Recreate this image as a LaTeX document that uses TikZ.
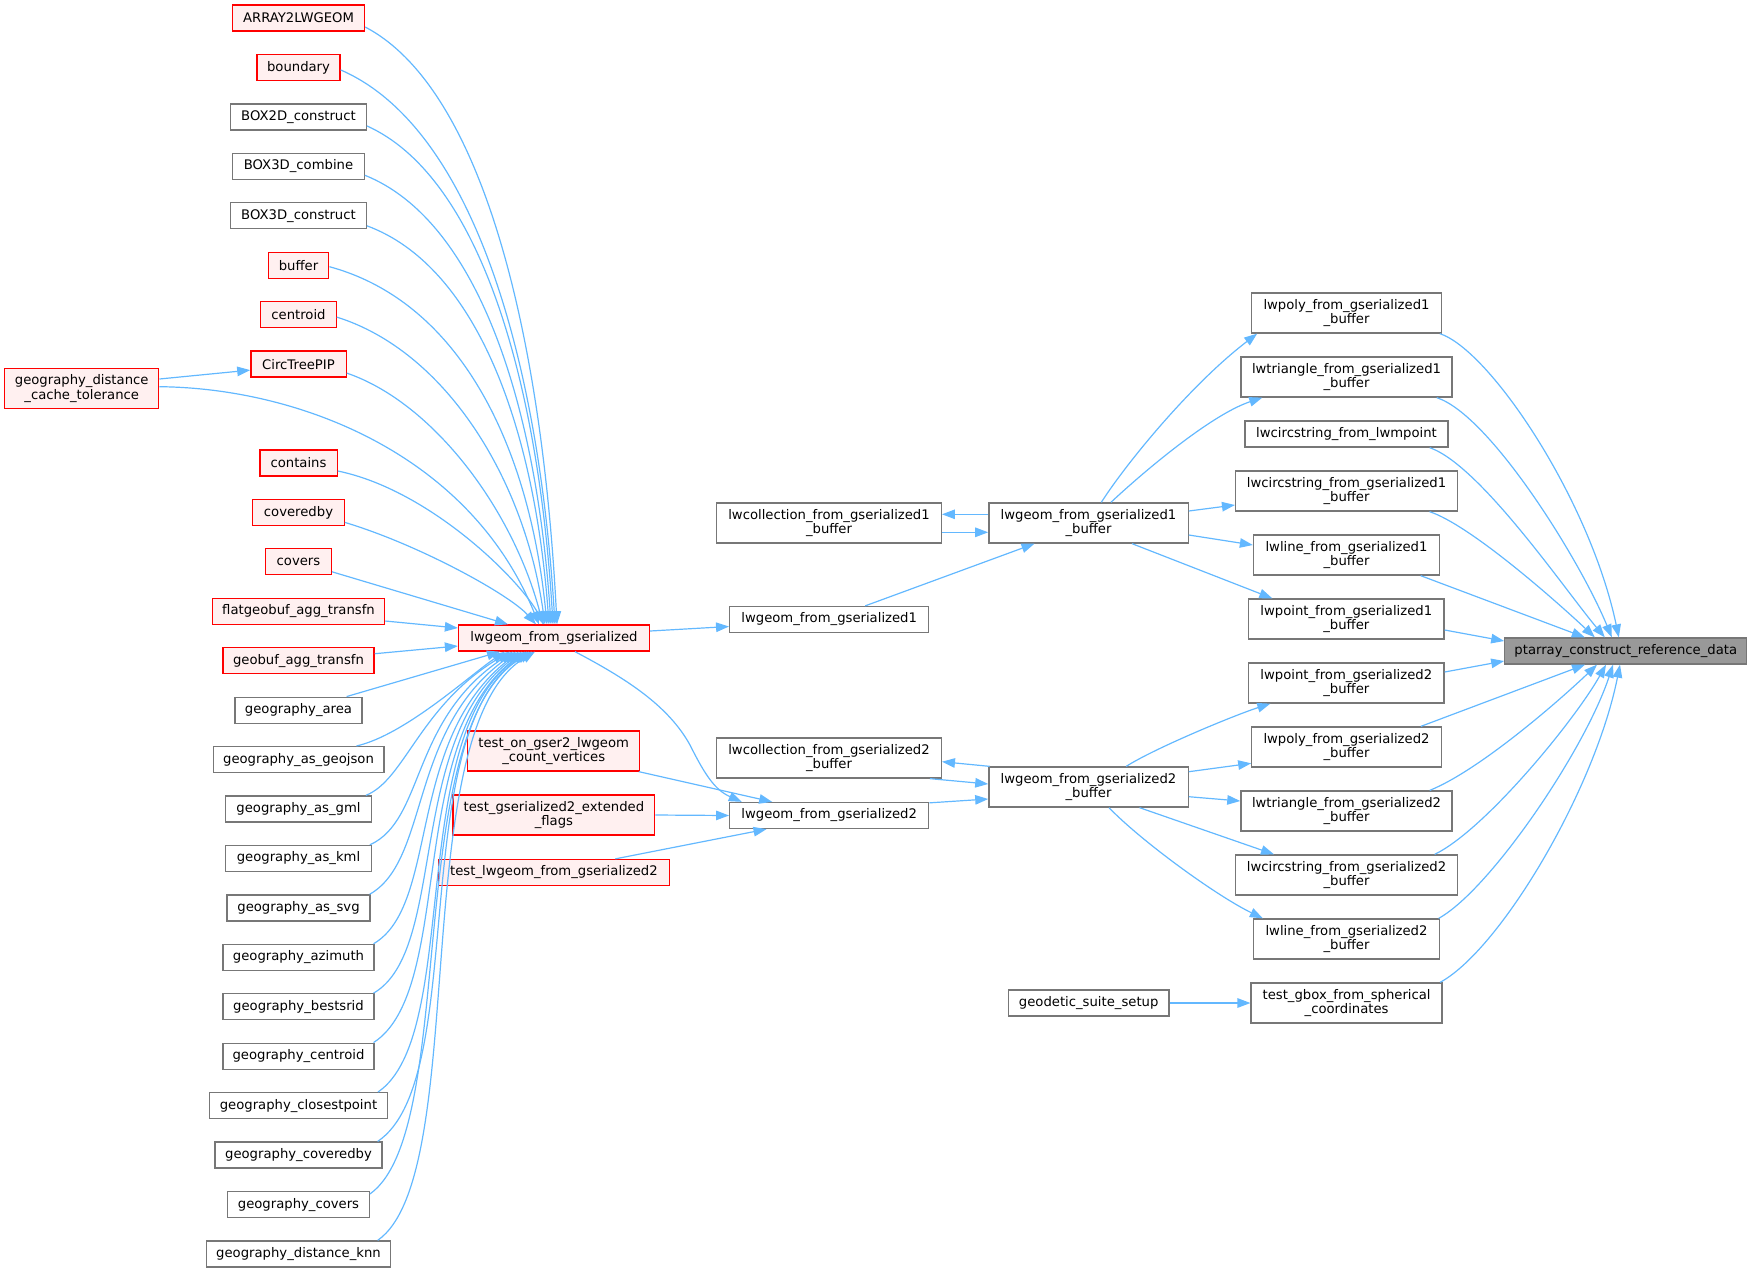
\documentclass[tikz,border=0pt]{standalone}
\usepackage{fontspec}
\setmainfont{DejaVu Sans}
\usetikzlibrary{arrows.meta}
\definecolor{edgeblue}{HTML}{63B8FF}
\definecolor{nodegray}{HTML}{777777}
\definecolor{rootfill}{HTML}{999999}
\definecolor{redfill}{HTML}{FFF0F0}
\definecolor{redline}{HTML}{FF0000}
\tikzset{
  nd/.style={draw=nodegray, fill=white, line width=1.3pt, inner sep=0pt, minimum height=26pt, align=center, font=\fontsize{13.2pt}{14.5pt}\selectfont},
  rd/.style={nd, draw=redline, fill=redfill},
  rt/.style={nd, fill=rootfill},
  tw/.style={minimum height=40pt},
  arr/.style={draw=edgeblue, line width=1.2pt, -{Triangle[length=13pt,width=9.5pt]}},
}
\begin{document}
\begin{tikzpicture}[x=1pt,y=-1pt]
\useasboundingbox (0,0) rectangle (1752,1272);
% left column
\node[rd, minimum width=132pt]   (arr2)   at (298.5,18)     {ARRAY2LWGEOM};
\node[rd, minimum width=83pt]    (bnd)    at (298.5,67.44)  {boundary};
\node[nd, minimum width=135.5pt] (box2d)  at (298.5,116.9)  {BOX2D\_construct};
\node[nd, minimum width=131.6pt] (box3dc) at (298.5,166.3)  {BOX3D\_combine};
\node[nd, minimum width=135.5pt] (box3dk) at (298.5,215.8)  {BOX3D\_construct};
\node[rd, minimum width=60.5pt]  (buf)    at (298.5,265.2)  {buffer};
\node[rd, minimum width=75.4pt]  (cen)    at (298.5,314.6)  {centroid};
\node[rd, minimum width=95.3pt]  (ctp)    at (298.5,364.1)  {CircTreePIP};
\node[rd, tw, minimum width=154.2pt] (gdct) at (81.7,388.5) {geography\_distance\\\_cache\_tolerance};
\node[rd, minimum width=77.3pt]  (cont)   at (298.5,463)    {contains};
\node[rd, minimum width=91.4pt]  (cvb)    at (298.5,512.4)  {coveredby};
\node[rd, minimum width=65.8pt]  (cvs)    at (298.5,561.8)  {covers};
\node[rd, minimum width=172.2pt] (fgb)    at (298.5,611.3)  {flatgeobuf\_agg\_transfn};
\node[rd, minimum width=151.2pt] (gbf)    at (298.5,660.7)  {geobuf\_agg\_transfn};
\node[nd, minimum width=127pt]   (garea)  at (298.5,710.2)  {geography\_area};
\node[nd, minimum width=170.7pt] (gjson)  at (298.5,759.6)  {geography\_as\_geojson};
\node[nd, minimum width=145.4pt] (ggml)   at (298.5,809)    {geography\_as\_gml};
\node[nd, minimum width=145.4pt] (gkml)   at (298.5,858.5)  {geography\_as\_kml};
\node[nd, minimum width=143.1pt] (gsvg)   at (298.5,907.9)  {geography\_as\_svg};
\node[nd, minimum width=150.8pt] (gazi)   at (298.5,957.4)  {geography\_azimuth};
\node[nd, minimum width=150.8pt] (gbsr)   at (298.5,1006.8) {geography\_bestsrid};
\node[nd, minimum width=150.8pt] (gcen)   at (298.5,1056.2) {geography\_centroid};
\node[nd, minimum width=177.6pt] (gcp)    at (298.5,1105.7) {geography\_closestpoint};
\node[nd, minimum width=166.9pt] (gcvb)   at (298.5,1155.1) {geography\_coveredby};
\node[nd, minimum width=141.6pt] (gcvs)   at (298.5,1204.6) {geography\_covers};
\node[nd, minimum width=184.4pt] (gknn)   at (298.5,1254)   {geography\_distance\_knn};
% middle
\node[rd, minimum width=191pt]   (lgs) at (554,638)   {lwgeom\_from\_gserialized};
\node[rd, tw, minimum width=172pt]   (ton) at (553.7,751) {test\_on\_gser2\_lwgeom\\\_count\_vertices};
\node[rd, tw, minimum width=201.7pt] (tef) at (553.9,815) {test\_gserialized2\_extended\\\_flags};
\node[rd, minimum width=230.8pt] (tlg) at (553.9,872.5) {test\_lwgeom\_from\_gserialized2};
% column 3
\node[nd, tw, minimum width=224.6pt] (lco1) at (829,523)   {lwcollection\_from\_gserialized1\\\_buffer};
\node[nd, minimum width=199pt]       (lgf1) at (829.2,619.5) {lwgeom\_from\_gserialized1};
\node[nd, tw, minimum width=224.6pt] (lco2) at (829,758)   {lwcollection\_from\_gserialized2\\\_buffer};
\node[nd, minimum width=199pt]       (lgf2) at (829.2,815.5) {lwgeom\_from\_gserialized2};
% column 4
\node[nd, tw, minimum width=199.3pt] (lg1b) at (1088.5,523) {lwgeom\_from\_gserialized1\\\_buffer};
\node[nd, tw, minimum width=199.3pt] (lg2b) at (1088.5,787) {lwgeom\_from\_gserialized2\\\_buffer};
\node[nd, minimum width=160.7pt]     (geo)  at (1088.7,1003) {geodetic\_suite\_setup};
% column 5
\node[nd, tw, minimum width=189.4pt] (lp1)  at (1346.5,313) {lwpoly\_from\_gserialized1\\\_buffer};
\node[nd, tw, minimum width=211.2pt] (lt1)  at (1346.5,377) {lwtriangle\_from\_gserialized1\\\_buffer};
\node[nd, minimum width=203pt]       (lcm)  at (1346.5,434) {lwcircstring\_from\_lwmpoint};
\node[nd, tw, minimum width=221.8pt] (lc1)  at (1346.5,491) {lwcircstring\_from\_gserialized1\\\_buffer};
\node[nd, tw, minimum width=186pt]   (ll1)  at (1346.5,555) {lwline\_from\_gserialized1\\\_buffer};
\node[nd, tw, minimum width=195.4pt] (lpt1) at (1346.3,619) {lwpoint\_from\_gserialized1\\\_buffer};
\node[nd, tw, minimum width=195.4pt] (lpt2) at (1346.3,683) {lwpoint\_from\_gserialized2\\\_buffer};
\node[nd, tw, minimum width=189.4pt] (lpl2) at (1346.5,747) {lwpoly\_from\_gserialized2\\\_buffer};
\node[nd, tw, minimum width=211.2pt] (lt2)  at (1346.5,811) {lwtriangle\_from\_gserialized2\\\_buffer};
\node[nd, tw, minimum width=221.8pt] (lc2)  at (1346.5,875) {lwcircstring\_from\_gserialized2\\\_buffer};
\node[nd, tw, minimum width=186pt]   (ll2)  at (1346.5,939) {lwline\_from\_gserialized2\\\_buffer};
\node[nd, tw, minimum width=191pt]   (tgb)  at (1346.6,1003) {test\_gbox\_from\_spherical\\\_coordinates};
% root
\node[rt, minimum width=242pt] (pt) at (1625.8,651) {ptarray\_construct\_reference\_data};

% ---- edges into ptarray
\draw[arr] ([shift={(-2,0)}]lp1.south east) .. controls (1490,350) and (1590,500) .. ([shift={(-7,0)}]pt.north);
\draw[arr] ([shift={(-16,0)}]lt1.south east) .. controls (1490,415) and (1580,560) .. ([shift={(-14,0)}]pt.north);
\draw[arr] ([shift={(-19,0)}]lcm.south east) .. controls (1480,465) and (1565,590) .. ([shift={(-21,0)}]pt.north);
\draw[arr] ([shift={(-28.5,0)}]lc1.south east) .. controls (1470,525) and (1555,600) .. ([shift={(-31,0)}]pt.north);
\draw[arr] ([shift={(-19.5,0)}]ll1.south east) -- ([shift={(-41,0)}]pt.north);
\draw[arr] ([shift={(0,11)}]lpt1.east) -- ([shift={(0,-10)}]pt.west);
\draw[arr] ([shift={(0,-11)}]lpt2.east) -- ([shift={(0,10)}]pt.west);
\draw[arr] ([shift={(-21,0)}]lpl2.north east) -- ([shift={(-40.8,0)}]pt.south);
\draw[arr] ([shift={(-23,0)}]lt2.north east) .. controls (1480,770) and (1560,700) .. ([shift={(-28.8,0)}]pt.south);
\draw[arr] ([shift={(-23.4,0)}]lc2.north east) .. controls (1485,830) and (1575,720) .. ([shift={(-19.8,0)}]pt.south);
\draw[arr] ([shift={(-1.5,0)}]ll2.north east) .. controls (1490,890) and (1585,750) .. ([shift={(-12.8,0)}]pt.south);
\draw[arr] ([shift={(-2.7,0)}]tgb.north east) .. controls (1500,950) and (1595,790) .. ([shift={(-5.8,0)}]pt.south);

% ---- from lwgeom_from_gserialized1_buffer
\draw[arr] ([shift={(12.8,0)}]lg1b.north) .. controls (1125,465) and (1190,385) .. ([shift={(6,0)}]lp1.south west);
\draw[arr] ([shift={(22.4,0)}]lg1b.north) .. controls (1140,475) and (1210,415) .. ([shift={(22,0)}]lt1.south west);
\draw[arr] ([shift={(0,-12)}]lg1b.east) -- ([shift={(0,14)}]lc1.west);
\draw[arr] ([shift={(0,12)}]lg1b.east) -- ([shift={(0,-10)}]ll1.west);
\draw[arr] ([shift={(43.5,0)}]lg1b.south) -- ([shift={(-74,0)}]lpt1.north);
\draw[arr] ([shift={(0,-8.7)}]lg1b.west) -- ([shift={(0,-8.7)}]lco1.east);
\draw[arr] ([shift={(0,9.3)}]lco1.east) -- ([shift={(0,9.3)}]lg1b.west);
\draw[arr] ([shift={(36,0)}]lgf1.north) -- ([shift={(-54,0)}]lg1b.south);

% ---- from lwgeom_from_gserialized2_buffer
\draw[arr] ([shift={(37.7,0)}]lg2b.north) .. controls (1155,748) and (1235,715) .. ([shift={(-76,0)}]lpt2.south);
\draw[arr] ([shift={(0,-15.3)}]lg2b.east) -- ([shift={(0,16.3)}]lpl2.west);
\draw[arr] ([shift={(0,9.7)}]lg2b.east) -- ([shift={(0,-10)}]lt2.west);
\draw[arr] ([shift={(51,0)}]lg2b.south) -- ([shift={(-72.5,0)}]lc2.north);
\draw[arr] ([shift={(20.5,0)}]lg2b.south) .. controls (1140,840) and (1215,895) .. ([shift={(10,0)}]ll2.north west);
\draw[arr] ([shift={(1.5,0)}]lg2b.north west) -- ([shift={(0,3.7)}]lco2.east);
\draw[arr] ([shift={(-12,0)}]lco2.south east) -- ([shift={(0,-3)}]lg2b.west);
\draw[arr] ([shift={(0,1)}]lgf2.north east) -- ([shift={(0,12)}]lg2b.west);
\draw[arr] (geo.east) -- (tgb.west);

% ---- from lwgeom_from_gserialized
\draw[arr] ([shift={(0,-7)}]lgs.east) -- ([shift={(0,7)}]lgf1.west);
\draw[arr] ([shift={(21,0)}]lgs.south) .. controls (625,678) and (668,705) .. (690,745) .. controls (705,775) and (715,790) .. ([shift={(-87.5,0)}]lgf2.north);
\draw[arr] ([shift={(-1.5,0)}]ton.south east) -- ([shift={(-57,0)}]lgf2.north);
\draw[arr] (tef.east) -- (lgf2.west);
\draw[arr] ([shift={(61.4,0)}]tlg.north) -- ([shift={(-62.7,0)}]lgf2.south);

% ---- geography_distance_cache_tolerance
\draw[arr] ([shift={(0,-9.5)}]gdct.east) -- ([shift={(0,6)}]ctp.west);
\draw[arr] ([shift={(0,-1.8)}]gdct.east) .. controls (300,388) and (470,455) .. ([shift={(-15,0)}]lgs.north);

% ---- upper group into lwgeom_from_gserialized
\draw[arr] ([shift={(0,9)}]arr2.east) .. controls (480,87) and (541.6,326) .. ([shift={(3,0)}]lgs.north);
\draw[arr] ([shift={(0,2.5)}]bnd.east) .. controls (469,125.5) and (537.8,347.5) .. ([shift={(1,0)}]lgs.north);
\draw[arr] ([shift={(0,9)}]box2d.east) .. controls (478.3,176) and (538,375.5) .. ([shift={(-1,0)}]lgs.north);
\draw[arr] ([shift={(0,9)}]box3dc.east) .. controls (476.3,220) and (536,400) .. ([shift={(-3,0)}]lgs.north);
\draw[arr] ([shift={(0,10)}]box3dk.east) .. controls (475.9,266) and (534.4,425.5) .. ([shift={(-5,0)}]lgs.north);
\draw[arr] ([shift={(0,1.5)}]buf.east) .. controls (459.7,302) and (529.5,445.5) .. ([shift={(-7,0)}]lgs.north);
\draw[arr] ([shift={(0,2.5)}]cen.east) .. controls (444.8,351) and (524.1,477.2) .. ([shift={(-9,0)}]lgs.north);
\draw[arr] ([shift={(0,9)}]ctp.east) .. controls (434.7,403.3) and (513.5,511.6) .. ([shift={(-11,0)}]lgs.north);
\draw[arr] ([shift={(0,8)}]cont.east) .. controls (430,490) and (520,580) .. ([shift={(-10,0)}]lgs.north);
\draw[arr] ([shift={(0,10)}]cvb.east) .. controls (420,545) and (510,595) .. ([shift={(-18,0)}]lgs.north);
\draw[arr] ([shift={(0,10)}]cvs.east) -- ([shift={(-46,0)}]lgs.north);
\draw[arr] ([shift={(0,9.7)}]fgb.east) -- ([shift={(0,-10)}]lgs.west);
\draw[arr] ([shift={(0,-7)}]gbf.east) -- ([shift={(0,8)}]lgs.west);

% ---- lower group into lwgeom_from_gserialized
\draw[arr] ([shift={(-16,0)}]garea.north east) -- ([shift={(-54,0)}]lgs.south);
\draw[arr] ([shift={(-28,0)}]gjson.north east) .. controls (405,735) and (470,675) .. ([shift={(-49,0)}]lgs.south);
\draw[arr] ([shift={(-6,0)}]ggml.north east) .. controls (405,780) and (420,705) .. ([shift={(-44,0)}]lgs.south);
\draw[arr] ([shift={(-2,0)}]gkml.north east) .. controls (425,820) and (410,720) .. ([shift={(-41,0)}]lgs.south);
\draw[arr] ([shift={(-1,0)}]gsvg.north east) .. controls (430,860) and (408,730) .. ([shift={(-38,0)}]lgs.south);
\draw[arr] ([shift={(-1,0)}]gazi.north east) .. controls (440,905) and (405,740) .. ([shift={(-35,0)}]lgs.south);
\draw[arr] ([shift={(-1,0)}]gbsr.north east) .. controls (448,950) and (405,740) .. ([shift={(-32,0)}]lgs.south);
\draw[arr] ([shift={(-1,0)}]gcen.north east) .. controls (455,990) and (405,740) .. ([shift={(-29,0)}]lgs.south);
\draw[arr] ([shift={(-10,0)}]gcp.north east) .. controls (462,1035) and (405,735) .. ([shift={(-27,0)}]lgs.south);
\draw[arr] ([shift={(-5,0)}]gcvb.north east) .. controls (470,1080) and (405,735) .. ([shift={(-25,0)}]lgs.south);
\draw[arr] ([shift={(0,3)}]gcvs.north east) .. controls (460,1130) and (400,730) .. ([shift={(-22,0)}]lgs.south);
\draw[arr] ([shift={(-13.7,0)}]gknn.north east) .. controls (472,1175) and (405,730) .. ([shift={(-19,0)}]lgs.south);
\end{tikzpicture}
\end{document}
